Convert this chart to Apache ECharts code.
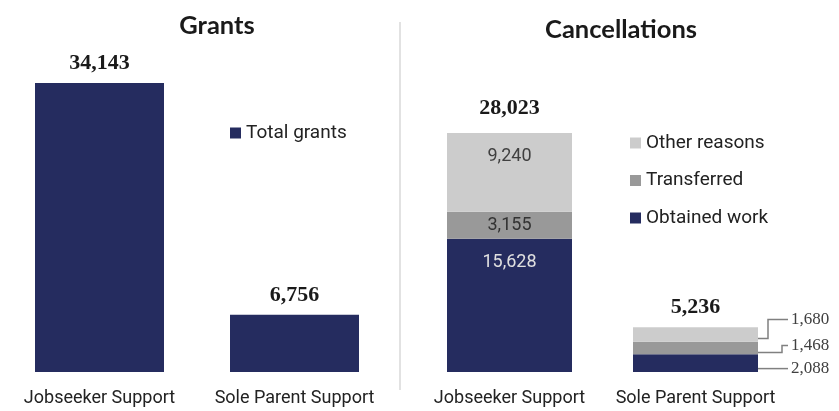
<!DOCTYPE html>
<html><head><meta charset="utf-8">
<script src="https://cdn.jsdelivr.net/npm/echarts@6/dist/echarts.min.js"></script>
<style>html,body{margin:0;padding:0;background:#fff}#c{width:839px;height:411px}</style>
</head><body><div id="c"></div>
<script>
// ---- data ----
const categories = ['Jobseeker Support', 'Sole Parent Support'];
const grants = [34143, 6756];
const obtainedWork = [15628, 2088];
const transferred = [3155, 1468];
const otherReasons = [9240, 1680];
const cancelTotals = [28023, 5236];
const calloutCategory = 1; // the short bar whose segment values are called out at the side

// ---- styles ----
const NAVY = '#252c5f', MID = '#999999', LIGHT = '#cccccc';
const numFont = 'Liberation Serif';
const sansFont = 'Roboto';
const BAR_W2 = 125;
// per-segment callout geometry (pixel offsets from the segment middle)
const calloutStyle = [
  { lineDy: 5.5, labelDy: 5.5, elbow: 0 },   // Obtained work
  { lineDy: 4.5, labelDy: -2.5, elbow: 24 }, // Transferred
  { lineDy: 4, labelDy: -15, elbow: 10 }     // Other reasons
];

function fmt(v) { return v.toLocaleString('en-US'); }

// build callout rows [category, segment bottom, segment top, value] from the stacked arrays
const stackArrays = [obtainedWork, transferred, otherReasons];
const calloutData = [];
let acc = 0;
stackArrays.forEach(arr => {
  const v = arr[calloutCategory];
  calloutData.push([calloutCategory, acc, acc + v, v]);
  acc += v;
});

const chart = echarts.init(document.getElementById('c'));

function stackSeries(name, values, color, labelCfg) {
  return {
    name, type: 'bar', stack: 'c', xAxisIndex: 1, yAxisIndex: 1,
    barWidth: BAR_W2,
    itemStyle: { color },
    label: Object.assign({ show: true, fontFamily: sansFont, fontSize: 18,
      formatter: p => fmt(p.value) }, labelCfg),
    data: values.map((v, i) => i === calloutCategory ? { value: v, label: { show: false } } : { value: v })
  };
}

const axisLabel = { color: '#222', fontFamily: sansFont, fontSize: 18, margin: 17, interval: 0 };

chart.setOption({
  animation: false,
  title: [
    { text: 'Grants', left: 212, top: 8, textAlign: 'center',
      textStyle: { fontFamily: 'Lato', fontWeight: 'bold', fontSize: 25.5, color: '#1a1a1a' } },
    { text: 'Cancellations', left: 616, top: 12, textAlign: 'center',
      textStyle: { fontFamily: 'Lato', fontWeight: 'bold', fontSize: 25.5, color: '#1a1a1a' } }
  ],
  legend: [
    { data: ['Total grants'], left: 225, top: 118, orient: 'vertical', icon: 'rect',
      itemWidth: 11, itemHeight: 11,
      textStyle: { fontFamily: sansFont, fontSize: 19, color: '#222', lineHeight: 20 } },
    { data: ['Other reasons', 'Transferred', 'Obtained work'], left: 625, top: 128, orient: 'vertical',
      icon: 'rect', itemWidth: 11, itemHeight: 11, itemGap: 17.5,
      textStyle: { fontFamily: sansFont, fontSize: 19, color: '#222', lineHeight: 20 } }
  ],
  grid: [
    { left: 2, width: 390, top: 33.5, bottom: 39 },
    { left: 416.5, width: 372, top: 31, bottom: 39 }
  ],
  xAxis: [
    { type: 'category', gridIndex: 0, data: categories, axisLine: { show: false },
      axisTick: { show: false }, axisLabel },
    { type: 'category', gridIndex: 1, data: categories, axisLine: { show: false },
      axisTick: { show: false }, axisLabel }
  ],
  yAxis: [
    { type: 'value', gridIndex: 0, min: 0, max: 40000, show: false, splitLine: { show: false } },
    { type: 'value', gridIndex: 1, min: 0, max: 40000, show: false, splitLine: { show: false } }
  ],
  graphic: [
    { type: 'line', shape: { x1: 400, y1: 22, x2: 400, y2: 390 },
      style: { stroke: '#d9d9d9', lineWidth: 1.5 } }
  ],
  series: [
    { name: 'Total grants', type: 'bar', xAxisIndex: 0, yAxisIndex: 0, barWidth: 129,
      itemStyle: { color: NAVY }, data: grants,
      label: { show: true, position: 'top', distance: 9, color: '#1a1a1a', fontFamily: numFont,
        fontWeight: 'bold', fontSize: 22, formatter: p => fmt(p.value) } },
    stackSeries('Obtained work', obtainedWork, NAVY,
      { position: 'insideTop', distance: 15, color: '#e0e0e0' }),
    stackSeries('Transferred', transferred, MID,
      { position: 'inside', color: '#333333' }),
    stackSeries('Other reasons', otherReasons, LIGHT,
      { position: 'insideTop', distance: 14, color: '#404040' }),
    { name: 'Total', type: 'bar', xAxisIndex: 1, yAxisIndex: 1, barWidth: BAR_W2, barGap: '-100%',
      itemStyle: { color: 'rgba(0,0,0,0)' }, silent: true,
      data: cancelTotals.map((v, i) => ({ value: v, label: { distance: i === 0 ? 14 : 9 } })),
      label: { show: true, position: 'top', color: '#1a1a1a', fontFamily: numFont,
        fontWeight: 'bold', fontSize: 22, formatter: p => fmt(p.value) } },
    { name: 'callouts', type: 'custom', xAxisIndex: 1, yAxisIndex: 1, silent: true,
      encode: { x: 0, y: [1, 2] }, data: calloutData, z: 5,
      renderItem: function (params, api) {
        const cat = api.value(0);
        const pLo = api.coord([cat, api.value(1)]);
        const pHi = api.coord([cat, api.value(2)]);
        const s = calloutStyle[params.dataIndex];
        const x0 = pLo[0] + BAR_W2 / 2;
        const yMid = (pLo[1] + pHi[1]) / 2;
        const ly = yMid + s.labelDy, sy = yMid + s.lineDy;
        const pts = s.elbow ? [[x0, sy], [x0 + s.elbow, sy], [x0 + s.elbow, ly], [x0 + 30, ly]]
                            : [[x0, sy], [x0 + 30, ly]];
        return { type: 'group', children: [
          { type: 'polyline', shape: { points: pts },
            style: { stroke: '#808080', lineWidth: 1.5, fill: null } },
          { type: 'text', x: x0 + 33, y: ly,
            style: { text: fmt(api.value(3)), fill: '#404040', fontFamily: numFont, fontSize: 17,
              align: 'left', verticalAlign: 'middle' } }
        ] };
      } }
  ]
});
</script>
</body></html>
